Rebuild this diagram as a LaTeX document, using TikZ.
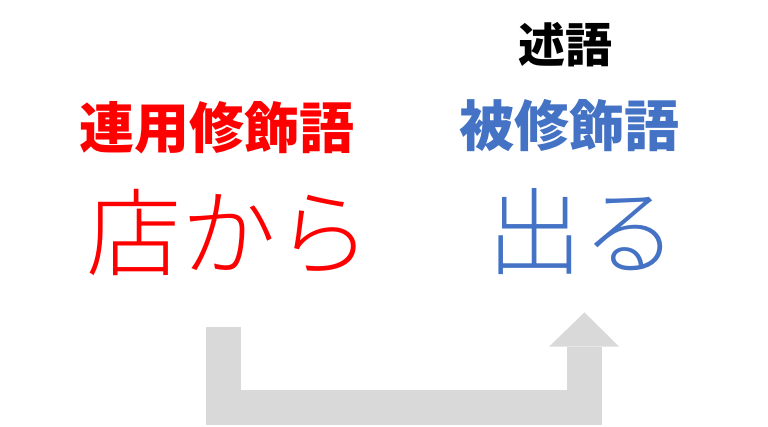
\documentclass[tikz,border=0pt]{standalone}
\usepackage{fontspec}
\usepackage{xcolor}
\usetikzlibrary{positioning}
\newfontfamily\jp{Noto Sans CJK JP}
\newfontfamily\jplight{Noto Sans CJK JP Light}
\definecolor{modred}{HTML}{FF0000}
\definecolor{modblue}{HTML}{4472C4}
\definecolor{arrowgray}{HTML}{D9D9D9}

\begin{document}
\begin{tikzpicture}[
        x=1pt, y=-1pt,
        role/.style={inner sep=0pt, anchor=base, font=\jp\bfseries\fontsize{55}{55}\selectfont},
        word/.style={inner sep=0pt, anchor=base, font=\jplight\fontsize{95}{95}\selectfont},
        bigarrow/.style={draw=arrowgray, line width=35pt, line join=miter}
    ]
    \useasboundingbox (0,0) rectangle (768,426);

    % Predicate label
    \node[role, font=\jp\bfseries\fontsize{47}{47}\selectfont] (pred) at (565,62) {述語};

    % Modifier (left)
    \node[role, text=modred] (modlabel) at (217,148) {連用修飾語};
    \node[word, text=modred] (modword) at (229,268) {店から};

    % Modified word (right)
    \node[role, text=modblue] (headlabel) at (569,146) {被修飾語};
    \node[word, text=modblue] (headword) at (582,267) {出る};

    % Arrow from modifier to modified word
    \coordinate (from) at (223,326.7);
    \coordinate (to) at (584.5,346.7);
    \draw[bigarrow] (from) -- (223,407.5) -- (584.5,407.5) -- (to);
    \fill[arrowgray] ([xshift=-35.5pt]to) -- ([yshift=34.4pt]to) -- ([xshift=34.5pt]to) -- cycle;

\end{tikzpicture}
\end{document}
